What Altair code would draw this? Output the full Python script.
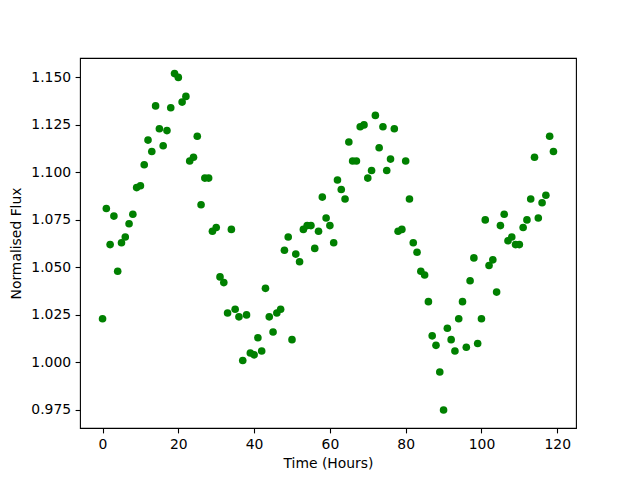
import altair as alt
import pandas as pd

hours = list(range(120))
flux = [
    1.023, 1.081, 1.062, 1.077, 1.048, 1.063, 1.066, 1.073, 1.078, 1.092,
    1.093, 1.104, 1.117, 1.111, 1.135, 1.123, 1.114, 1.122, 1.134, 1.152,
    1.150, 1.137, 1.140, 1.106, 1.108, 1.119, 1.083, 1.097, 1.097, 1.069,
    1.071, 1.045, 1.042, 1.026, 1.070, 1.028, 1.024, 1.001, 1.025, 1.005,
    1.004, 1.013, 1.006, 1.039, 1.024, 1.016, 1.026, 1.028, 1.059, 1.066,
    1.012, 1.057, 1.053, 1.070, 1.072, 1.072, 1.060, 1.069, 1.087, 1.076,
    1.072, 1.063, 1.096, 1.091, 1.086, 1.116, 1.106, 1.106, 1.124, 1.125,
    1.097, 1.101, 1.130, 1.113, 1.124, 1.101, 1.107, 1.123, 1.069, 1.070,
    1.106, 1.086, 1.063, 1.058, 1.048, 1.046, 1.032, 1.014, 1.009, 0.995,
    0.975, 1.018, 1.012, 1.006, 1.023, 1.032, 1.008, 1.043, 1.055, 1.010,
    1.023, 1.075, 1.051, 1.054, 1.037, 1.072, 1.078, 1.064, 1.066, 1.062,
    1.062, 1.071, 1.075, 1.086, 1.108, 1.076, 1.084, 1.088, 1.119, 1.111,
]
x_ticks = [0, 20, 40, 60, 80, 100, 120]
y_ticks = [0.975, 1.000, 1.025, 1.050, 1.075, 1.100, 1.125, 1.150]

df = pd.DataFrame({"Time": hours, "Flux": flux})

FONT = "DejaVu Sans"
axis_common = dict(
    grid=False,
    domain=False,
    ticks=True,
    tickSize=4.9,
    tickWidth=1.1,
    tickColor="black",
    labelFont=FONT,
    labelFontSize=13.9,
    labelColor="black",
    labelPadding=4.5,
    titleFont=FONT,
    titleFontSize=13.9,
    titleFontWeight="normal",
    titleColor="black",
)

chart = (
    alt.Chart(df)
    .mark_circle(color="#008000", opacity=1, size=58)
    .encode(
        x=alt.X(
            "Time:Q",
            scale=alt.Scale(domain=[-5.95, 124.95], nice=False, zero=False),
            axis=alt.Axis(values=x_ticks, format="d", title="Time (Hours)",
                          titlePadding=5, **axis_common),
        ),
        y=alt.Y(
            "Flux:Q",
            scale=alt.Scale(domain=[0.9655, 1.1602], nice=False, zero=False),
            axis=alt.Axis(values=y_ticks, format=".3f", title="Normalised Flux",
                          titlePadding=7, **axis_common),
        ),
    )
    .properties(
        width=496,
        height=370,
        autosize=alt.AutoSizeParams(type="none"),
        padding={"left": 72, "top": 50, "right": 48, "bottom": 44},
    )
    .configure(background="white")
    .configure_view(stroke="black", strokeWidth=1.1)
)

chart.save("out.html", embed_options={"renderer": "svg", "actions": False})
